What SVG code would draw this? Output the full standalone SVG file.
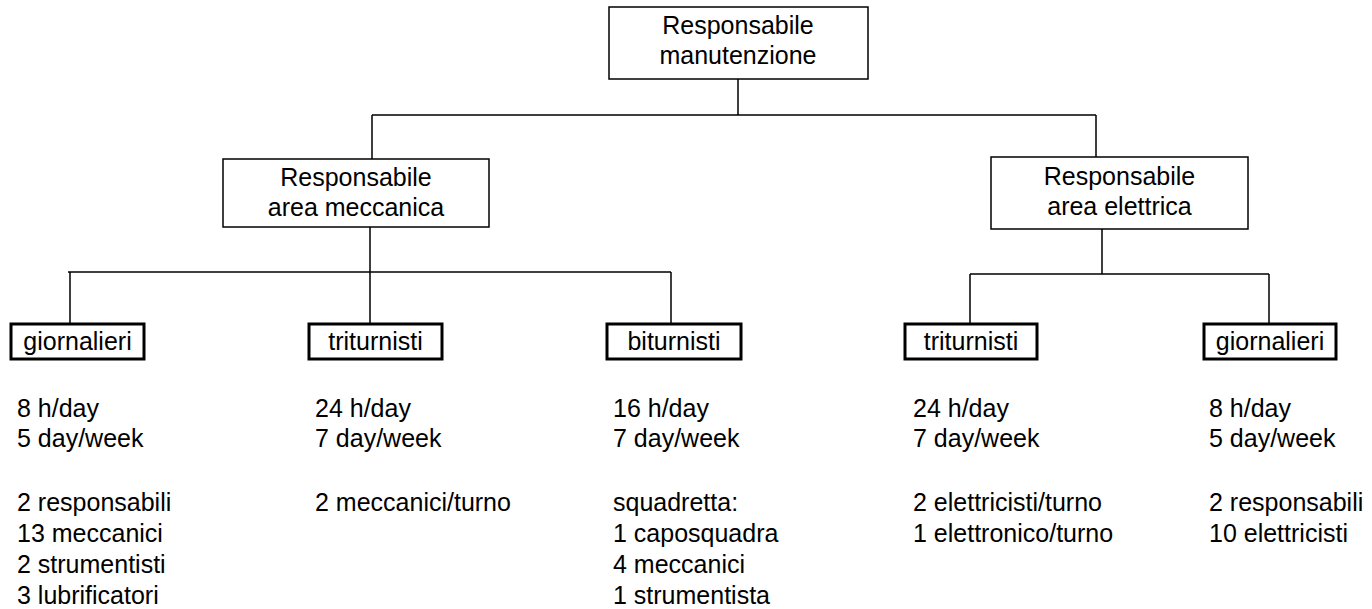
<svg xmlns="http://www.w3.org/2000/svg" width="1372" height="609" viewBox="0 0 1372 609">
<style>
text{font-family:"Liberation Sans",Arial,sans-serif;font-size:25px;fill:#000}
.c{text-anchor:middle}
.box{fill:#fff;stroke:#000;stroke-width:1.5}
.tbox{fill:#fff;stroke:#000;stroke-width:3}
.ln{stroke:#000;stroke-width:1.5;fill:none}
</style>
<rect width="1372" height="609" fill="#fff"/>
<g id="connectors">
<path class="ln" d="M738 79V115M372 115H1096M372 115V159M1096 115V157"/>
<path class="ln" d="M370 227V272M68 272H671M70 272V324M370 272V324M671 272V324"/>
<path class="ln" d="M1102 229V274M970 274H1269M970 274V324M1269 274V324"/>
</g>
<g id="n-top"><rect class="box" x="609" y="7" width="259" height="72"/><text class="c" x="738" y="34">Responsabile</text><text class="c" x="738" y="64">manutenzione</text></g>
<g id="n-mecc"><rect class="box" x="223" y="159" width="266" height="68"/><text class="c" x="356" y="186">Responsabile</text><text class="c" x="356" y="216">area meccanica</text></g>
<g id="n-elet"><rect class="box" x="991" y="157" width="257" height="72"/><text class="c" x="1119.5" y="185">Responsabile</text><text class="c" x="1119.5" y="215">area elettrica</text></g>
<g id="n-giorn1"><rect class="tbox" x="11" y="324" width="133" height="35"/><text class="c" x="77.5" y="350">giornalieri</text></g>
<g id="n-tri1"><rect class="tbox" x="309" y="324" width="133" height="35"/><text class="c" x="375.5" y="350">triturnisti</text></g>
<g id="n-bi"><rect class="tbox" x="607" y="324" width="134" height="35"/><text class="c" x="674" y="350">biturnisti</text></g>
<g id="n-tri2"><rect class="tbox" x="905" y="324" width="132" height="35"/><text class="c" x="971" y="350">triturnisti</text></g>
<g id="n-giorn2"><rect class="tbox" x="1204" y="324" width="132" height="35"/><text class="c" x="1270" y="350">giornalieri</text></g>
<g id="t-giorn1"><text x="17" y="417">8 h/day</text><text x="17" y="447">5 day/week</text><text x="17" y="511">2 responsabili</text><text x="17" y="542">13 meccanici</text><text x="17" y="573">2 strumentisti</text><text x="17" y="604">3 lubrificatori</text></g>
<g id="t-tri1"><text x="315" y="417">24 h/day</text><text x="315" y="447">7 day/week</text><text x="315" y="511">2 meccanici/turno</text></g>
<g id="t-bi"><text x="613" y="417">16 h/day</text><text x="613" y="447">7 day/week</text><text x="613" y="511">squadretta:</text><text x="613" y="542">1 caposquadra</text><text x="613" y="573">4 meccanici</text><text x="613" y="604">1 strumentista</text></g>
<g id="t-tri2"><text x="913" y="417">24 h/day</text><text x="913" y="447">7 day/week</text><text x="913" y="511">2 elettricisti/turno</text><text x="913" y="542">1 elettronico/turno</text></g>
<g id="t-giorn2"><text x="1209" y="417">8 h/day</text><text x="1209" y="447">5 day/week</text><text x="1209" y="511">2 responsabili</text><text x="1209" y="542">10 elettricisti</text></g>
</svg>
